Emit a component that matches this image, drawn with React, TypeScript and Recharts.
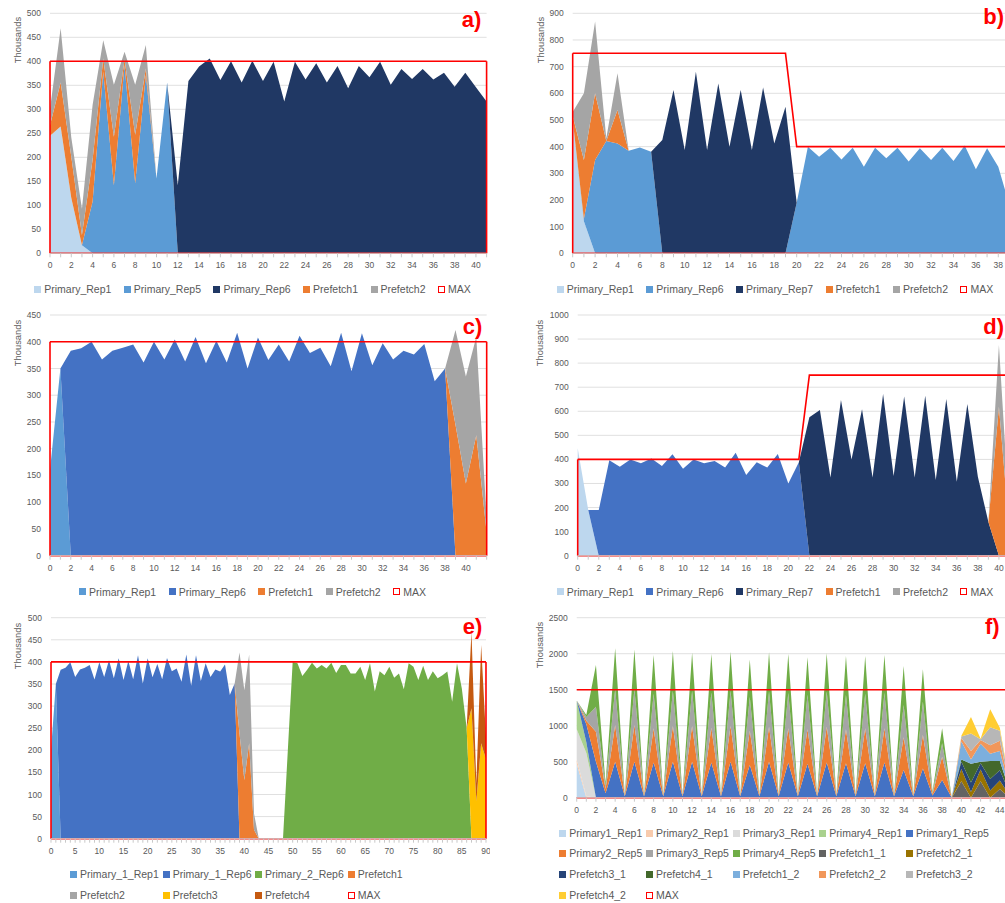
import React from 'react'
import { AreaChart, Area, XAxis, YAxis, CartesianGrid, ReferenceLine } from 'recharts'

const FONT = '"Liberation Sans", Arial, sans-serif'
const TEXT = '#595959'
const RED = '#ff0000'

const seg = (n: number, parts: [number, number[]][]) => {
  const out: number[] = new Array(n).fill(0)
  parts.forEach(([start, vals]) => vals.forEach((v, i) => { out[start + i] = v }))
  return out
}
const level = (n: number, steps: [number, number][]) => {
  const out: number[] = []
  for (let i = 0; i < n; i++) {
    let v = 0
    steps.forEach(([from, val]) => { if (i >= from) v = val })
    out.push(v)
  }
  return out
}
const cats = (n: number) => Array.from({ length: n }, (_, i) => i)

// ---------- a) ----------
const A_CATS = cats(42)
const A_XLABELS = [0, 2, 4, 6, 8, 10, 12, 14, 16, 18, 20, 22, 24, 26, 28, 30, 32, 34, 36, 38, 40]
const A_YTICKS = [0, 50, 100, 150, 200, 250, 300, 350, 400, 450, 500]
const A_REP1 = seg(42, [[0, [245, 264, 115, 17]]])
const A_REP5 = seg(42, [[4, [108, 378, 142, 392, 146, 371, 156, 356]]])
const A_REP6 = seg(42, [[12, [142, 359, 389, 406, 361, 400, 356, 401, 359, 399, 316, 399, 362, 396, 356, 390, 344, 390, 367, 399, 351, 384, 363, 384, 362, 376, 347, 376, 346, 316]]])
const A_PF1 = seg(42, [[0, [22, 92, 86, 21, 87, 28, 101, 12, 101, 14]]])
const A_PF2 = seg(42, [[0, [33, 113, 40, 55, 114, 38, 108, 16, 104, 49]]])
const A_MAX = level(42, [[0, 400]])

// ---------- b) ----------
const B_CATS = cats(41)
const B_XLABELS = [0, 2, 4, 6, 8, 10, 12, 14, 16, 18, 20, 22, 24, 26, 28, 30, 32, 34, 36, 38]
const B_YTICKS = [0, 100, 200, 300, 400, 500, 600, 700, 800, 900]
const B_REP1 = seg(41, [[0, [500, 120]]])
const B_REP6 = seg(41, [[1, [10, 350, 421, 412, 385, 397, 381]], [20, [190, 400, 362, 396, 352, 396, 325, 396, 356, 396, 344, 394, 350, 396, 346, 404, 315, 394, 325, 180, 120]]])
const B_REP7 = seg(41, [[8, [425, 612, 387, 681, 387, 637, 400, 612, 387, 622, 412, 550]]])
const B_PF1 = seg(41, [[0, [15, 220, 250, 0, 125]]])
const B_PF2 = seg(41, [[0, [15, 250, 269, 10, 138]]])
const B_MAX = level(41, [[0, 750], [20, 400]])

// ---------- c) ----------
const C_CATS = cats(43)
const C_XLABELS = [0, 2, 4, 6, 8, 10, 12, 14, 16, 18, 20, 22, 24, 26, 28, 30, 32, 34, 36, 38, 40]
const C_YTICKS = [0, 50, 100, 150, 200, 250, 300, 350, 400, 450]
const C_REP1 = seg(43, [[0, [160, 350]]])
const C_REP6 = seg(43, [[2, [383, 388, 400, 367, 383, 389, 395, 361, 400, 367, 404, 363, 409, 360, 402, 361, 417, 350, 408, 366, 395, 363, 411, 379, 389, 354, 417, 345, 416, 356, 397, 367, 383, 376, 396, 326, 350]]])
const C_PF1 = seg(43, [[39, [245, 135, 225, 42]]])
const C_PF2 = seg(43, [[39, [177, 200, 184, 25]]])
const C_MAX = level(43, [[0, 400]])

// ---------- d) ----------
const D_CATS = cats(43)
const D_XLABELS = [0, 2, 4, 6, 8, 10, 12, 14, 16, 18, 20, 22, 24, 26, 28, 30, 32, 34, 36, 38, 40]
const D_YTICKS = [0, 100, 200, 300, 400, 500, 600, 700, 800, 900, 1000]
const D_REP1 = seg(43, [[0, [446, 190]]])
const D_REP6 = seg(43, [[2, [190, 397, 370, 400, 384, 404, 373, 421, 361, 400, 384, 393, 366, 428, 335, 388, 366, 422, 300, 388]]])
const D_REP7 = seg(43, [[22, [575, 605, 325, 647, 400, 608, 325, 672, 331, 661, 325, 665, 314, 651, 307, 630, 328, 140]]])
const D_PF1 = seg(43, [[40, [619, 100]]])
const D_PF2 = seg(43, [[40, [256, 60]]])
const D_MAX = level(43, [[0, 400], [22, 750]])

// ---------- e) ----------
const E_CATS = cats(91)
const E_XLABELS = [0, 5, 10, 15, 20, 25, 30, 35, 40, 45, 50, 55, 60, 65, 70, 75, 80, 85, 90]
const E_YTICKS = [0, 50, 100, 150, 200, 250, 300, 350, 400, 450, 500]
const E_P1R1 = seg(91, [[0, [200, 350]]])
const E_P1R6 = seg(91, [[2, [382, 387, 399, 366, 383, 387, 393, 360, 399, 366, 404, 363, 408, 359, 402, 361, 415, 351, 408, 365, 395, 361, 409, 379, 385, 355, 417, 346, 415, 357, 397, 366, 383, 378, 394, 325, 351]]])
const E_P2R6 = seg(91, [[49, [200, 400, 397, 368, 382, 398, 385, 393, 385, 398, 375, 393, 393, 374, 374, 389, 359, 397, 333, 379, 370, 389, 364, 374, 338, 397, 389, 359, 391, 359, 379, 363, 370, 378, 310, 397, 340, 250]]])
const E_PF1 = seg(91, [[39, [238, 133, 216, 20]]])
const E_PF2 = seg(91, [[39, [183, 203, 201, 37]]])
const E_PF3 = seg(91, [[87, [295, 85, 216, 180]]])
const E_PF4 = seg(91, [[87, [173, 40, 222, 50]]])
const E_MAX = level(91, [[0, 400]])

// ---------- f) ----------
const F_CATS = cats(48)
const F_XLABELS = [0, 2, 4, 6, 8, 10, 12, 14, 16, 18, 20, 22, 24, 26, 28, 30, 32, 34, 36, 38, 40, 42, 44]
const F_YTICKS = [0, 500, 1000, 1500, 2000, 2500]
const F_P1R1 = seg(48, [[0, [470]]])
const F_P2R1 = seg(48, [[0, [60, 20]]])
const F_P3R1 = seg(48, [[0, [420, 600]]])
const F_P4R1 = seg(48, [[0, [400, 150]]])
const F_P1R5 = seg(48, [[1, [250, 500, 60, 500, 20, 500, 20, 490, 20, 500, 20, 500, 20, 490, 20, 500, 20, 454, 20, 500, 20, 490, 20, 470, 20, 490, 20, 477, 20, 477, 20, 490, 20, 384, 20, 407, 30, 245]]])
const F_P2R5 = seg(48, [[1, [50, 417, 60, 509, 10, 509, 10, 473, 10, 495, 10, 495, 10, 482, 10, 495, 10, 476, 10, 486, 10, 473, 10, 479, 10, 495, 10, 472, 10, 486, 10, 473, 10, 454, 10, 463, 20, 325]]])
const F_P3R5 = seg(48, [[1, [50, 347, 40, 500, 5, 500, 5, 480, 5, 490, 5, 490, 5, 490, 5, 490, 5, 470, 5, 490, 5, 490, 5, 480, 5, 490, 5, 480, 5, 480, 5, 490, 5, 450, 5, 463, 15, 185]]])
const F_P4R5 = seg(48, [[1, [30, 580, 40, 565, 5, 551, 5, 539, 5, 552, 5, 529, 5, 534, 5, 543, 5, 521, 5, 543, 5, 543, 5, 520, 5, 530, 5, 539, 5, 525, 5, 529, 5, 541, 5, 450, 20, 208]]])
const F_PF1_1 = seg(48, [[40, [230, 0, 230, 0, 120, 0]]])
const F_PF2_1 = seg(48, [[40, [170, 80, 160, 100, 120, 30]]])
const F_PF3_1 = seg(48, [[40, [100, 130, 90, 160, 140, 40]]])
const F_PF4_1 = seg(48, [[40, [30, 260, 20, 250, 130, 30]]])
const F_PF1_2 = seg(48, [[40, [250, 60, 250, 100, 140, 30]]])
const F_PF2_2 = seg(48, [[40, [50, 120, 50, 120, 140, 30]]])
const F_PF3_2 = seg(48, [[40, [20, 240, 10, 250, 140, 30]]])
const F_PF4_2 = seg(48, [[40, [10, 230, 10, 250, 40, 20]]])
const F_MAX = level(48, [[0, 1500]])

type Series = { name: string; color: string; values: number[] }

const C_LIGHT = '#bdd7ee'
const C_MID = '#5b9bd5'
const C_BLUE = '#4472c4'
const C_NAVY = '#203864'
const C_ORANGE = '#ed7d31'
const C_GREY = '#a5a5a5'

const SERIES_A: Series[] = [
  { name: 'Primary_Rep1', color: C_LIGHT, values: A_REP1 },
  { name: 'Primary_Rep5', color: C_MID, values: A_REP5 },
  { name: 'Primary_Rep6', color: C_NAVY, values: A_REP6 },
  { name: 'Prefetch1', color: C_ORANGE, values: A_PF1 },
  { name: 'Prefetch2', color: C_GREY, values: A_PF2 },
]
const SERIES_B: Series[] = [
  { name: 'Primary_Rep1', color: C_LIGHT, values: B_REP1 },
  { name: 'Primary_Rep6', color: C_MID, values: B_REP6 },
  { name: 'Primary_Rep7', color: C_NAVY, values: B_REP7 },
  { name: 'Prefetch1', color: C_ORANGE, values: B_PF1 },
  { name: 'Prefetch2', color: C_GREY, values: B_PF2 },
]
const SERIES_C: Series[] = [
  { name: 'Primary_Rep1', color: C_MID, values: C_REP1 },
  { name: 'Primary_Rep6', color: C_BLUE, values: C_REP6 },
  { name: 'Prefetch1', color: C_ORANGE, values: C_PF1 },
  { name: 'Prefetch2', color: C_GREY, values: C_PF2 },
]
const SERIES_D: Series[] = [
  { name: 'Primary_Rep1', color: C_LIGHT, values: D_REP1 },
  { name: 'Primary_Rep6', color: C_BLUE, values: D_REP6 },
  { name: 'Primary_Rep7', color: C_NAVY, values: D_REP7 },
  { name: 'Prefetch1', color: C_ORANGE, values: D_PF1 },
  { name: 'Prefetch2', color: C_GREY, values: D_PF2 },
]
const SERIES_E: Series[] = [
  { name: 'Primary_1_Rep1', color: C_MID, values: E_P1R1 },
  { name: 'Primary_1_Rep6', color: C_BLUE, values: E_P1R6 },
  { name: 'Primary_2_Rep6', color: '#70ad47', values: E_P2R6 },
  { name: 'Prefetch1', color: C_ORANGE, values: E_PF1 },
  { name: 'Prefetch2', color: C_GREY, values: E_PF2 },
  { name: 'Prefetch3', color: '#ffc000', values: E_PF3 },
  { name: 'Prefetch4', color: '#c55a11', values: E_PF4 },
]
const SERIES_F: Series[] = [
  { name: 'Primary1_Rep1', color: '#bdd7ee', values: F_P1R1 },
  { name: 'Primary2_Rep1', color: '#f8cbad', values: F_P2R1 },
  { name: 'Primary3_Rep1', color: '#dbdbdb', values: F_P3R1 },
  { name: 'Primary4_Rep1', color: '#a9d18e', values: F_P4R1 },
  { name: 'Primary1_Rep5', color: '#4472c4', values: F_P1R5 },
  { name: 'Primary2_Rep5', color: '#ed7d31', values: F_P2R5 },
  { name: 'Primary3_Rep5', color: '#a5a5a5', values: F_P3R5 },
  { name: 'Primary4_Rep5', color: '#70ad47', values: F_P4R5 },
  { name: 'Prefetch1_1', color: '#636363', values: F_PF1_1 },
  { name: 'Prefetch2_1', color: '#997300', values: F_PF2_1 },
  { name: 'Prefetch3_1', color: '#264478', values: F_PF3_1 },
  { name: 'Prefetch4_1', color: '#43682b', values: F_PF4_1 },
  { name: 'Prefetch1_2', color: '#7cafdd', values: F_PF1_2 },
  { name: 'Prefetch2_2', color: '#f1975a', values: F_PF2_2 },
  { name: 'Prefetch3_2', color: '#b7b7b7', values: F_PF3_2 },
  { name: 'Prefetch4_2', color: '#ffcd33', values: F_PF4_2 },
]

function XTick(props: any) {
  const { x, y, payload, labels } = props
  if (!labels.includes(payload.value)) return <g />
  return (
    <text x={x} y={y} dy="0.71em" textAnchor="middle" fontSize={8.5} fill={TEXT} fontFamily={FONT}>
      {payload.value}
    </text>
  )
}

interface PanelProps {
  left: number
  top: number
  yW: number
  mTop: number
  plotW: number
  plotH: number
  categories: number[]
  xLabels: number[]
  yTicks: number[]
  series: Series[]
  max: number[]
}

function Panel({ left, top, yW, mTop, plotW, plotH, categories, xLabels, yTicks, series, max }: PanelProps) {
  const rows = categories.map((c, i) => {
    const row: Record<string, number> = { cat: c, MAX: max[i] }
    series.forEach((s, k) => { row['s' + k] = s.values[i] })
    return row
  })
  const first = categories[0]
  const last = categories[categories.length - 1]
  return (
    <div style={{ position: 'absolute', left, top }}>
      <AreaChart width={yW + plotW + 4} height={mTop + plotH + 24} data={rows}
        margin={{ top: mTop, right: 4, left: 0, bottom: 0 }}>
        <CartesianGrid vertical={false} stroke="#e0e0e0" />
        <XAxis dataKey="cat" interval={0} height={24} tickSize={4} tickMargin={5}
          axisLine={{ stroke: '#d0d0d0' }} tickLine={{ stroke: '#c8c8c8' }}
          tick={(p: any) => <XTick {...p} labels={xLabels} />} />
        <YAxis type="number" domain={[0, yTicks[yTicks.length - 1]]} ticks={yTicks} interval={0}
          width={yW} axisLine={false} tickLine={false} tickSize={6} tickMargin={3}
          tick={{ fontSize: 8.5, fill: TEXT, fontFamily: FONT }} />
        {series.map((s, k) => (
          <Area key={s.name} type="linear" dataKey={'s' + k} stackId="stack" stroke="none"
            fill={s.color} fillOpacity={1} dot={false} activeDot={false} isAnimationActive={false} />
        ))}
        <Area type="linear" dataKey="MAX" stroke={RED} strokeWidth={1.6} fill="none" dot={false}
          activeDot={false} isAnimationActive={false} />
        <ReferenceLine y={0} stroke={RED} strokeWidth={1.6} />
        <ReferenceLine segment={[{ x: first, y: 0 }, { x: first, y: max[0] }]} stroke={RED} strokeWidth={1.6} />
        <ReferenceLine segment={[{ x: last, y: 0 }, { x: last, y: max[max.length - 1] }]} stroke={RED} strokeWidth={1.6} />
      </AreaChart>
    </div>
  )
}

type LegendItem = { name: string; color: string; max?: boolean }

const legendItems = (series: Series[]): LegendItem[] => [
  ...series.map((s) => ({ name: s.name, color: s.color })),
  { name: 'MAX', color: RED, max: true },
]

function Swatch({ item }: { item: LegendItem }) {
  return item.max ? (
    <span style={{ display: 'inline-block', width: 5, height: 5, border: `1.6px solid ${RED}`, flex: 'none' }} />
  ) : (
    <span style={{ display: 'inline-block', width: 7, height: 7, background: item.color, flex: 'none' }} />
  )
}

function RowLegend({ cx, cy, items }: { cx: number; cy: number; items: LegendItem[] }) {
  return (
    <div style={{ position: 'absolute', left: cx - 300, top: cy - 8, width: 600, height: 16, display: 'flex',
      justifyContent: 'center', alignItems: 'center', gap: 12.5 }}>
      {items.map((it) => (
        <div key={it.name} style={{ display: 'flex', alignItems: 'center', gap: 3, fontSize: 10.5, color: TEXT, whiteSpace: 'nowrap' }}>
          <Swatch item={it} />
          <span>{it.name}</span>
        </div>
      ))}
    </div>
  )
}

function GridLegend({ cols, rows, items }: { cols: number[]; rows: number[]; items: LegendItem[] }) {
  return (
    <>
      {items.map((it, i) => (
        <div key={it.name} style={{ position: 'absolute', left: cols[i % cols.length], top: rows[Math.floor(i / cols.length)] - 8,
          height: 16, display: 'flex', alignItems: 'center', gap: 3, fontSize: 10.5, color: TEXT, whiteSpace: 'nowrap' }}>
          <Swatch item={it} />
          <span>{it.name}</span>
        </div>
      ))}
    </>
  )
}

function YTitle({ cx, cy }: { cx: number; cy: number }) {
  return (
    <div style={{ position: 'absolute', left: cx, top: cy, transform: 'translate(-50%, -50%) rotate(-90deg)',
      fontSize: 9.4, color: TEXT, whiteSpace: 'nowrap', lineHeight: 1 }}>
      Thousands
    </div>
  )
}

function Tag({ x, y, text }: { x: number; y: number; text: string }) {
  return (
    <div style={{ position: 'absolute', left: x, top: y, fontSize: 22, fontWeight: 700, color: RED, lineHeight: 1 }}>
      {text}
    </div>
  )
}

export default function App() {
  return (
    <div style={{ position: 'absolute', left: 0, top: 0, width: 1005, height: 903, overflow: 'hidden', background: '#fff', fontFamily: FONT }}>
      <div style={{ position: 'absolute', left: 0, top: 0, width: 492, height: 903, overflow: 'hidden' }}>
        <Panel left={0} top={0} yW={50} mTop={13.3} plotW={436.6} plotH={240} categories={A_CATS}
          xLabels={A_XLABELS} yTicks={A_YTICKS} series={SERIES_A} max={A_MAX} />
        <Panel left={0} top={300} yW={50} mTop={15} plotW={436.7} plotH={240.7} categories={C_CATS}
          xLabels={C_XLABELS} yTicks={C_YTICKS} series={SERIES_C} max={C_MAX} />
        <Panel left={0} top={600} yW={51} mTop={17.7} plotW={435} plotH={221} categories={E_CATS}
          xLabels={E_XLABELS} yTicks={E_YTICKS} series={SERIES_E} max={E_MAX} />
      </div>
      <div style={{ position: 'absolute', left: 500, top: 0, width: 505, height: 903, overflow: 'hidden' }}>
        <Panel left={0} top={0} yW={72.7} mTop={13.3} plotW={448} plotH={240} categories={B_CATS}
          xLabels={B_XLABELS} yTicks={B_YTICKS} series={SERIES_B} max={B_MAX} />
        <Panel left={0} top={300} yW={77.7} mTop={15} plotW={442.3} plotH={240.7} categories={D_CATS}
          xLabels={D_XLABELS} yTicks={D_YTICKS} series={SERIES_D} max={D_MAX} />
        <Panel left={0} top={600} yW={76.7} mTop={17.7} plotW={452} plotH={180} categories={F_CATS}
          xLabels={F_XLABELS} yTicks={F_YTICKS} series={SERIES_F} max={F_MAX} />
      </div>

      <YTitle cx={17.5} cy={40} />
      <YTitle cx={540.7} cy={40.3} />
      <YTitle cx={17.5} cy={342.5} />
      <YTitle cx={540} cy={342.5} />
      <YTitle cx={18.3} cy={645.5} />
      <YTitle cx={540} cy={644.5} />

      <Tag x={461.7} y={9} text="a)" />
      <Tag x={983.3} y={5.7} text="b)" />
      <Tag x={462.7} y={315.7} text="c)" />
      <Tag x={983.3} y={316.4} text="d)" />
      <Tag x={462.7} y={615.7} text="e)" />
      <Tag x={985} y={615.7} text="f)" />

      <RowLegend cx={252.5} cy={289.3} items={legendItems(SERIES_A)} />
      <RowLegend cx={775} cy={289.3} items={legendItems(SERIES_B)} />
      <RowLegend cx={252.5} cy={591.7} items={legendItems(SERIES_C)} />
      <RowLegend cx={775} cy={591.7} items={legendItems(SERIES_D)} />
      <GridLegend cols={[70, 162.7, 255, 347.7]} rows={[874.3, 895]} items={legendItems(SERIES_E)} />
      <GridLegend cols={[559.3, 646, 732.7, 819.3, 906]} rows={[833.3, 853.3, 874.3, 895]} items={legendItems(SERIES_F)} />
    </div>
  )
}
